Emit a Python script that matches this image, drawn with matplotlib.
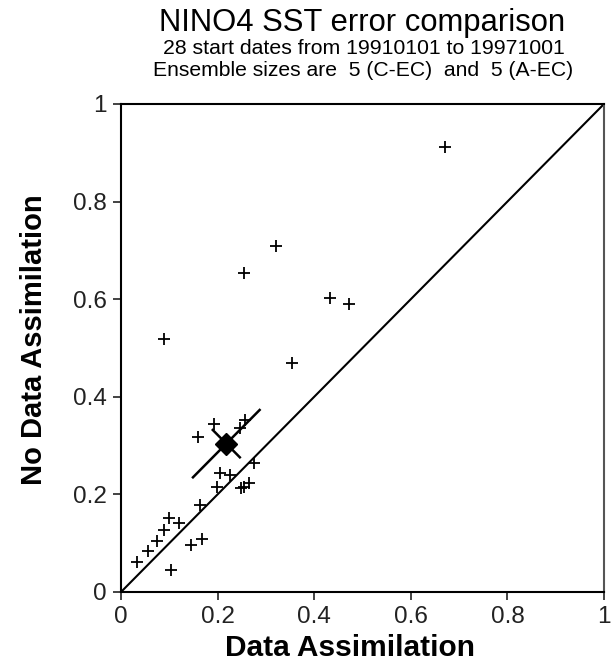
import matplotlib
matplotlib.use("Agg")
import matplotlib.pyplot as plt
import numpy as np

plt.rcParams['font.family'] = ['Liberation Sans', 'DejaVu Sans']

# Data: (Data Assimilation error, No Data Assimilation error)
da = [0.034, 0.056, 0.074, 0.090, 0.099, 0.121, 0.104, 0.144, 0.167,
      0.164, 0.160, 0.192, 0.198, 0.205, 0.226, 0.248, 0.254, 0.264,
      0.276, 0.246, 0.256, 0.670, 0.320, 0.254, 0.433, 0.472, 0.354, 0.088]
nda = [0.062, 0.084, 0.104, 0.128, 0.151, 0.141, 0.046, 0.097, 0.108,
       0.179, 0.317, 0.344, 0.216, 0.243, 0.240, 0.213, 0.216, 0.223,
       0.264, 0.336, 0.353, 0.911, 0.710, 0.654, 0.602, 0.591, 0.469, 0.518]

mean_pt = (0.218, 0.304)
long_half = 0.069    # half extent along 1:1 direction (in x units)
perp_half = 0.028    # half extent perpendicular

xticks = [0, 0.2, 0.4, 0.6, 0.8, 1]
xticklabels = ['0', '0.2', '0.4', '0.6', '0.8', '1']

W, H = 611, 666
fig = plt.figure(figsize=(W / 100, H / 100), dpi=100)
x0, x1, y0, y1 = 121, 604, 592, 104
ax = fig.add_axes([x0 / W, 1 - y0 / H, (x1 - x0) / W, (y0 - y1) / H])

ax.plot([0, 1], [0, 1], color='black', lw=1.5, zorder=2)
ax.plot(da, nda, linestyle='none', marker='+', ms=9, mew=1.3, color='black', zorder=3)

mx, my = mean_pt
ax.plot([mx - long_half, mx + long_half], [my - long_half, my + long_half],
        color='black', lw=1.8, zorder=3)
ax.plot([mx - perp_half, mx + perp_half], [my + perp_half, my - perp_half],
        color='black', lw=1.8, zorder=3)
ax.plot([mx], [my], marker='D', ms=11, color='black', zorder=4)

ax.set_xlim(0, 1)
ax.set_ylim(0, 1)
ax.set_xticks(xticks)
ax.set_xticklabels(xticklabels)
ax.set_yticks(xticks)
ax.set_yticklabels(xticklabels)
ax.tick_params(direction='out', length=6, width=1.2, labelsize=17.5, colors='#222222', pad=4)
for s in ax.spines.values():
    s.set_linewidth(1.5)
ax.spines['right'].set_color('#555555')

fig.text(350 / W, 1 - 656 / H, 'Data Assimilation', ha='center', va='baseline',
         fontsize=21.5, fontweight='bold')
fig.text(34 / W, 1 - 340 / H, 'No Data Assimilation', ha='center', va='center',
         rotation=90, fontsize=21, fontweight='bold')

fig.text(0.593, 1 - 31 / H, 'NINO4 SST error comparison', ha='center', va='baseline', fontsize=22.3)
fig.text(0.596, 1 - 54 / H, '28 start dates from 19910101 to 19971001', ha='center', va='baseline', fontsize=15.3)
fig.text(0.595, 1 - 76 / H, 'Ensemble sizes are  5 (C-EC)  and  5 (A-EC)', ha='center', va='baseline', fontsize=15.2)

fig.savefig('out.png', dpi=100)
